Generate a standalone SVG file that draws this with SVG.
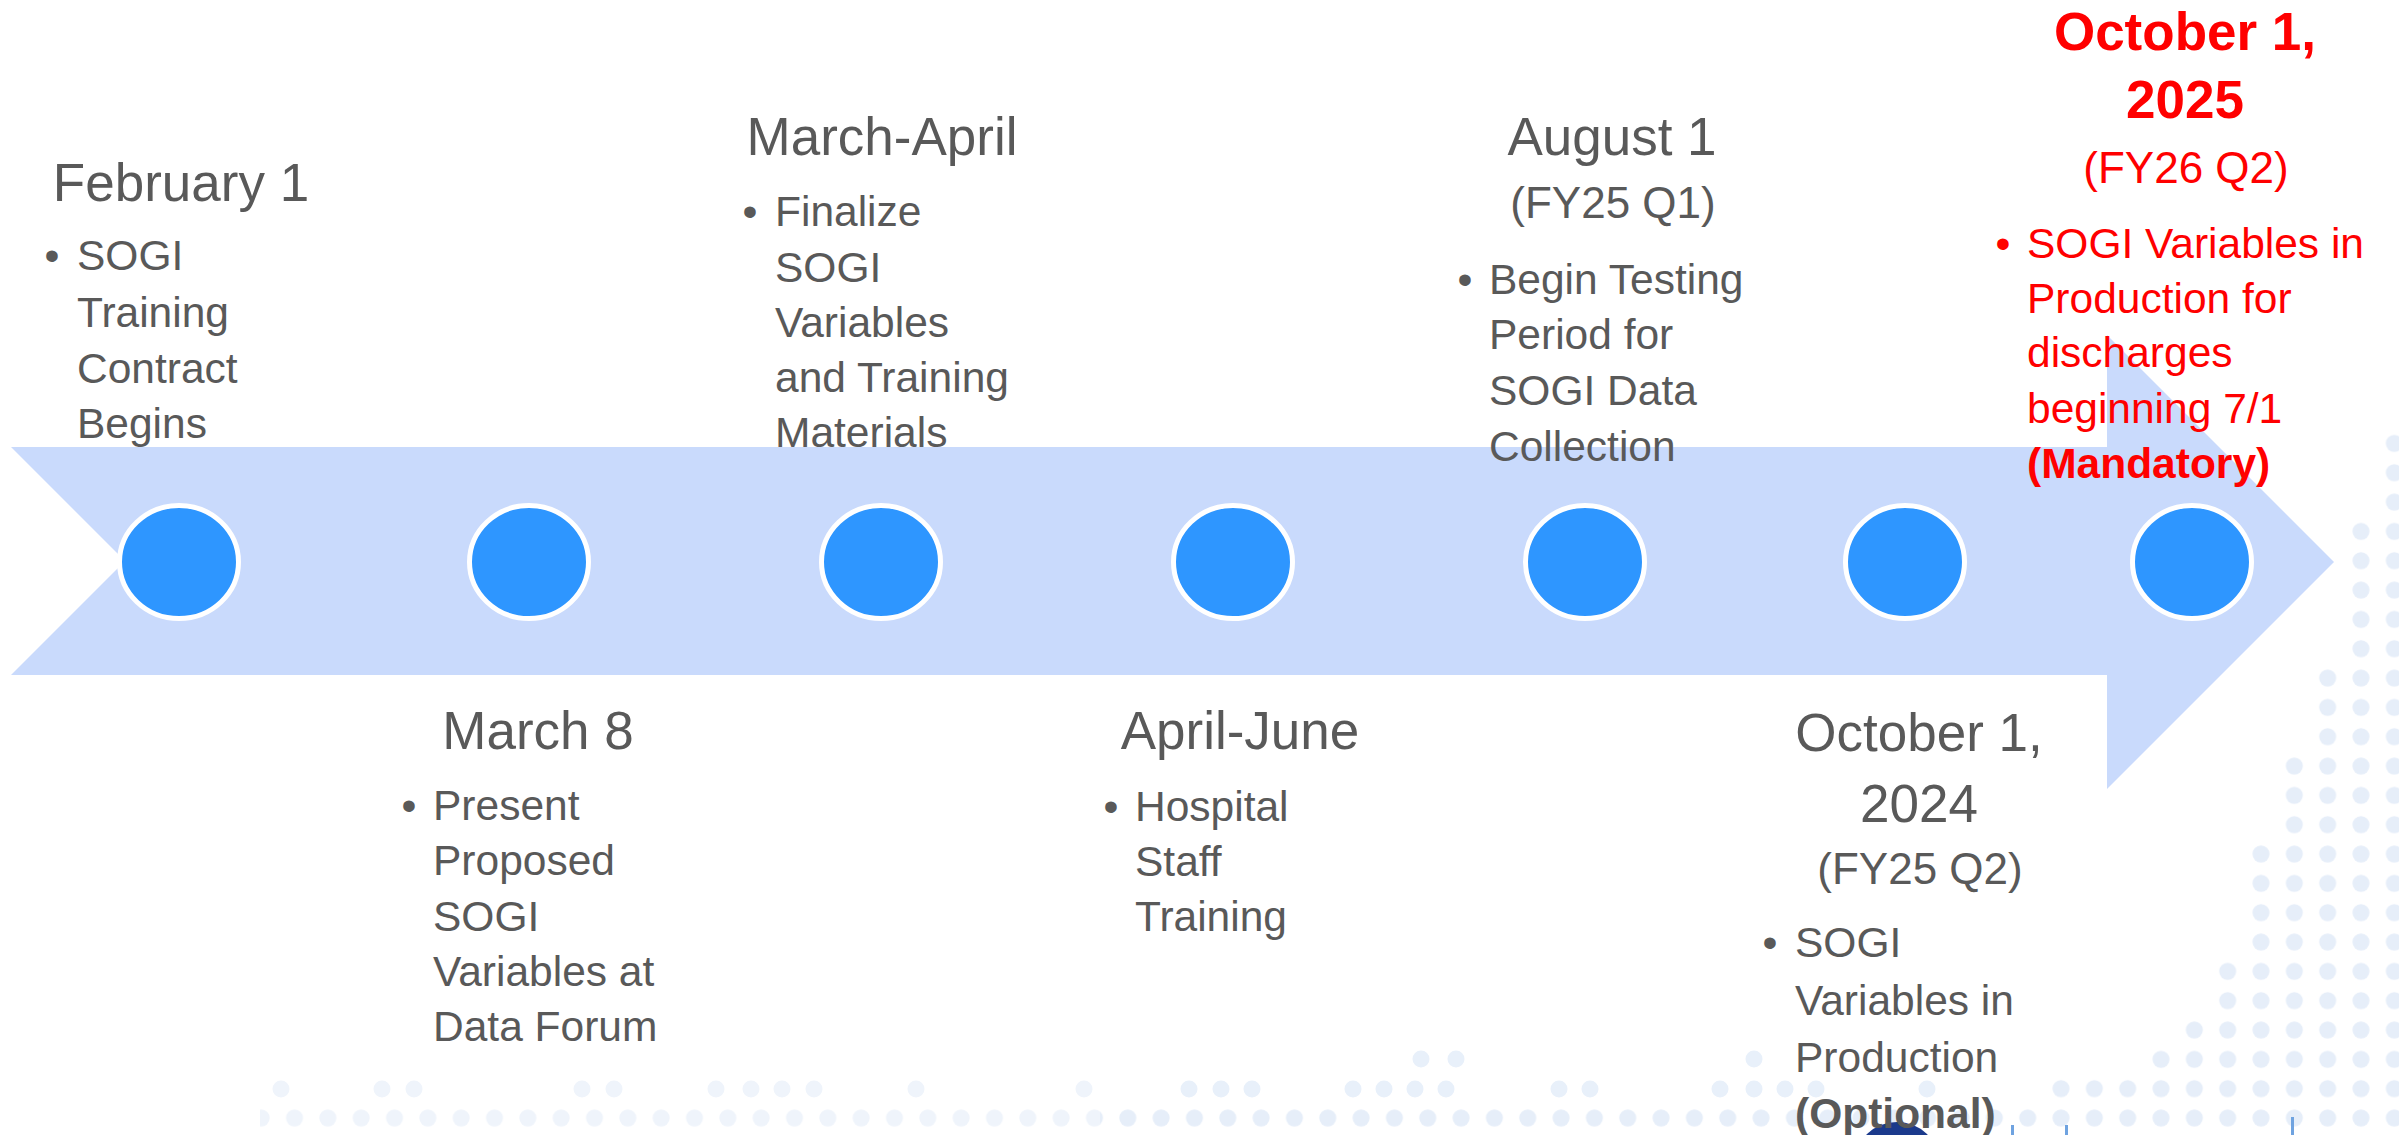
<svg xmlns="http://www.w3.org/2000/svg" width="2399" height="1135" viewBox="0 0 2399 1135">
<style>
text{font-family:"Liberation Sans",Arial,Helvetica,sans-serif;fill:#595959}
.h{font-size:53px;text-anchor:middle}
.q{font-size:44px;text-anchor:middle}
.b{font-size:42.5px}
.d{font-size:42.5px;text-anchor:middle}
.red{fill:#FF0000}
.bold{font-weight:bold}
.dot{fill:#2E96FF;stroke:#FFFFFF;stroke-width:5}
</style>
<defs>
<pattern id="dots" patternUnits="userSpaceOnUse" x="2344.33" y="1103.33" width="33.33" height="29.33">
<circle cx="16.67" cy="14.67" r="8.5" fill="#E6EEF9"/>
</pattern>
<pattern id="dotsFaint" patternUnits="userSpaceOnUse" x="2344.33" y="1103.33" width="33.33" height="29.33">
<circle cx="16.67" cy="14.67" r="8.5" fill="#EFF4FB"/>
</pattern>
</defs>
<rect width="2399" height="1135" fill="#FFFFFF"/>
<g id="background-dots">
<rect x="2377.7" y="430" width="25" height="705" fill="url(#dots)"/>
<rect x="2344.3" y="518" width="33.4" height="617" fill="url(#dots)"/>
<rect x="2311" y="664" width="33.3" height="471" fill="url(#dots)"/>
<rect x="2277.7" y="752" width="33.3" height="383" fill="url(#dots)"/>
<rect x="2244.3" y="840" width="33.4" height="295" fill="url(#dots)"/>
<rect x="2211" y="957" width="33.3" height="178" fill="url(#dots)"/>
<rect x="2177.7" y="1015" width="33.3" height="120" fill="url(#dots)"/>
<rect x="2144.3" y="1044" width="33.4" height="91" fill="url(#dots)"/>
<rect x="2044.3" y="1074" width="100" height="61" fill="url(#dots)"/>
<rect x="1100" y="1104" width="944.3" height="31" fill="url(#dots)"/>
<rect x="260" y="1104" width="840" height="31" fill="url(#dotsFaint)"/>
<g fill="#E8F0FA">
<circle cx="1189" cy="1089" r="8.5"/><circle cx="1221" cy="1089" r="8.5"/><circle cx="1252" cy="1089" r="8.5"/>
<circle cx="1353" cy="1089" r="8.5"/><circle cx="1384" cy="1089" r="8.5"/><circle cx="1415" cy="1089" r="8.5"/><circle cx="1446" cy="1089" r="8.5"/>
<circle cx="1559" cy="1089" r="8.5"/><circle cx="1590" cy="1089" r="8.5"/>
<circle cx="1720" cy="1089" r="8.5"/><circle cx="1754" cy="1089" r="8.5"/><circle cx="1785" cy="1089" r="8.5"/><circle cx="1816" cy="1089" r="8.5"/>
<circle cx="1927" cy="1089" r="8.5"/>
<circle cx="1421" cy="1059" r="8.5"/><circle cx="1456" cy="1059" r="8.5"/><circle cx="1754" cy="1059" r="8.5"/>
</g>
<g fill="#EFF4FB">
<circle cx="281" cy="1089" r="8.5"/><circle cx="382" cy="1089" r="8.5"/><circle cx="414" cy="1089" r="8.5"/>
<circle cx="582" cy="1089" r="8.5"/><circle cx="614" cy="1089" r="8.5"/><circle cx="716" cy="1089" r="8.5"/>
<circle cx="751" cy="1089" r="8.5"/><circle cx="782" cy="1089" r="8.5"/><circle cx="814" cy="1089" r="8.5"/>
<circle cx="916" cy="1089" r="8.5"/><circle cx="1084" cy="1089" r="8.5"/>
</g>
</g>
<g id="logo-fragment">
<ellipse cx="1897" cy="1162" rx="42" ry="40" fill="#1B3A8C"/>
<rect x="2011" y="1125" width="3" height="10" fill="#6FA3E0"/>
<rect x="2065" y="1125" width="3" height="10" fill="#6FA3E0"/>
<rect x="2291" y="1117" width="3" height="18" fill="#6FA3E0"/>
</g>
<g id="connectors">
<polygon points="11,447 2107,447 2107,335 2334,562 2107,789 2107,675 11,675 125,561" fill="#C9DAFC"/>
</g>
<g id="m1">
<ellipse class="dot" cx="179" cy="562" rx="59.5" ry="56.5"/>
<text class="h" x="181" y="201">February 1</text>
<text class="d" x="52" y="270">•</text>
<text class="b"><tspan x="77" y="270">SOGI</tspan><tspan x="77" y="327">Training</tspan><tspan x="77" y="383">Contract</tspan><tspan x="77" y="438">Begins</tspan></text>
</g>
<g id="m2">
<ellipse class="dot" cx="529" cy="562" rx="59.5" ry="56.5"/>
<text class="h" x="538" y="749">March 8</text>
<text class="d" x="409" y="820">•</text>
<text class="b"><tspan x="433" y="820">Present</tspan><tspan x="433" y="875">Proposed</tspan><tspan x="433" y="931">SOGI</tspan><tspan x="433" y="986">Variables at</tspan><tspan x="433" y="1041">Data Forum</tspan></text>
</g>
<g id="m3">
<ellipse class="dot" cx="881" cy="562" rx="59.5" ry="56.5"/>
<text class="h" x="882" y="155">March-April</text>
<text class="d" x="750" y="226">•</text>
<text class="b"><tspan x="775" y="226">Finalize</tspan><tspan x="775" y="282">SOGI</tspan><tspan x="775" y="337">Variables</tspan><tspan x="775" y="392">and Training</tspan><tspan x="775" y="447">Materials</tspan></text>
</g>
<g id="m4">
<ellipse class="dot" cx="1233" cy="562" rx="59.5" ry="56.5"/>
<text class="h" x="1240" y="749">April-June</text>
<text class="d" x="1111" y="821">•</text>
<text class="b"><tspan x="1135" y="821">Hospital</tspan><tspan x="1135" y="876">Staff</tspan><tspan x="1135" y="931">Training</tspan></text>
</g>
<g id="m5">
<ellipse class="dot" cx="1585" cy="562" rx="59.5" ry="56.5"/>
<text class="h" x="1612" y="155">August 1</text>
<text class="q" x="1613" y="218">(FY25 Q1)</text>
<text class="d" x="1465" y="294">•</text>
<text class="b"><tspan x="1489" y="294">Begin Testing</tspan><tspan x="1489" y="349">Period for</tspan><tspan x="1489" y="405">SOGI Data</tspan><tspan x="1489" y="461">Collection</tspan></text>
</g>
<g id="m6">
<ellipse class="dot" cx="1905" cy="562" rx="59.5" ry="56.5"/>
<text class="h" x="1919" y="751">October 1,</text>
<text class="h" x="1919" y="822">2024</text>
<text class="q" x="1920" y="884">(FY25 Q2)</text>
<text class="d" x="1770" y="957">•</text>
<text class="b"><tspan x="1795" y="957">SOGI</tspan><tspan x="1795" y="1015">Variables in</tspan><tspan x="1795" y="1072">Production</tspan><tspan x="1795" y="1128" class="bold">(Optional)</tspan></text>
</g>
<g id="m7">
<ellipse class="dot" cx="2192" cy="562" rx="59.5" ry="56.5"/>
<text class="h red bold" x="2185" y="50">October 1,</text>
<text class="h red bold" x="2185" y="118">2025</text>
<text class="q red" x="2186" y="183">(FY26 Q2)</text>
<text class="d red" x="2003" y="258">•</text>
<text class="b red"><tspan x="2027" y="258">SOGI Variables in</tspan><tspan x="2027" y="313">Production for</tspan><tspan x="2027" y="367">discharges</tspan><tspan x="2027" y="423">beginning 7/1</tspan><tspan x="2027" y="478" class="bold red">(Mandatory)</tspan></text>
</g>
</svg>
